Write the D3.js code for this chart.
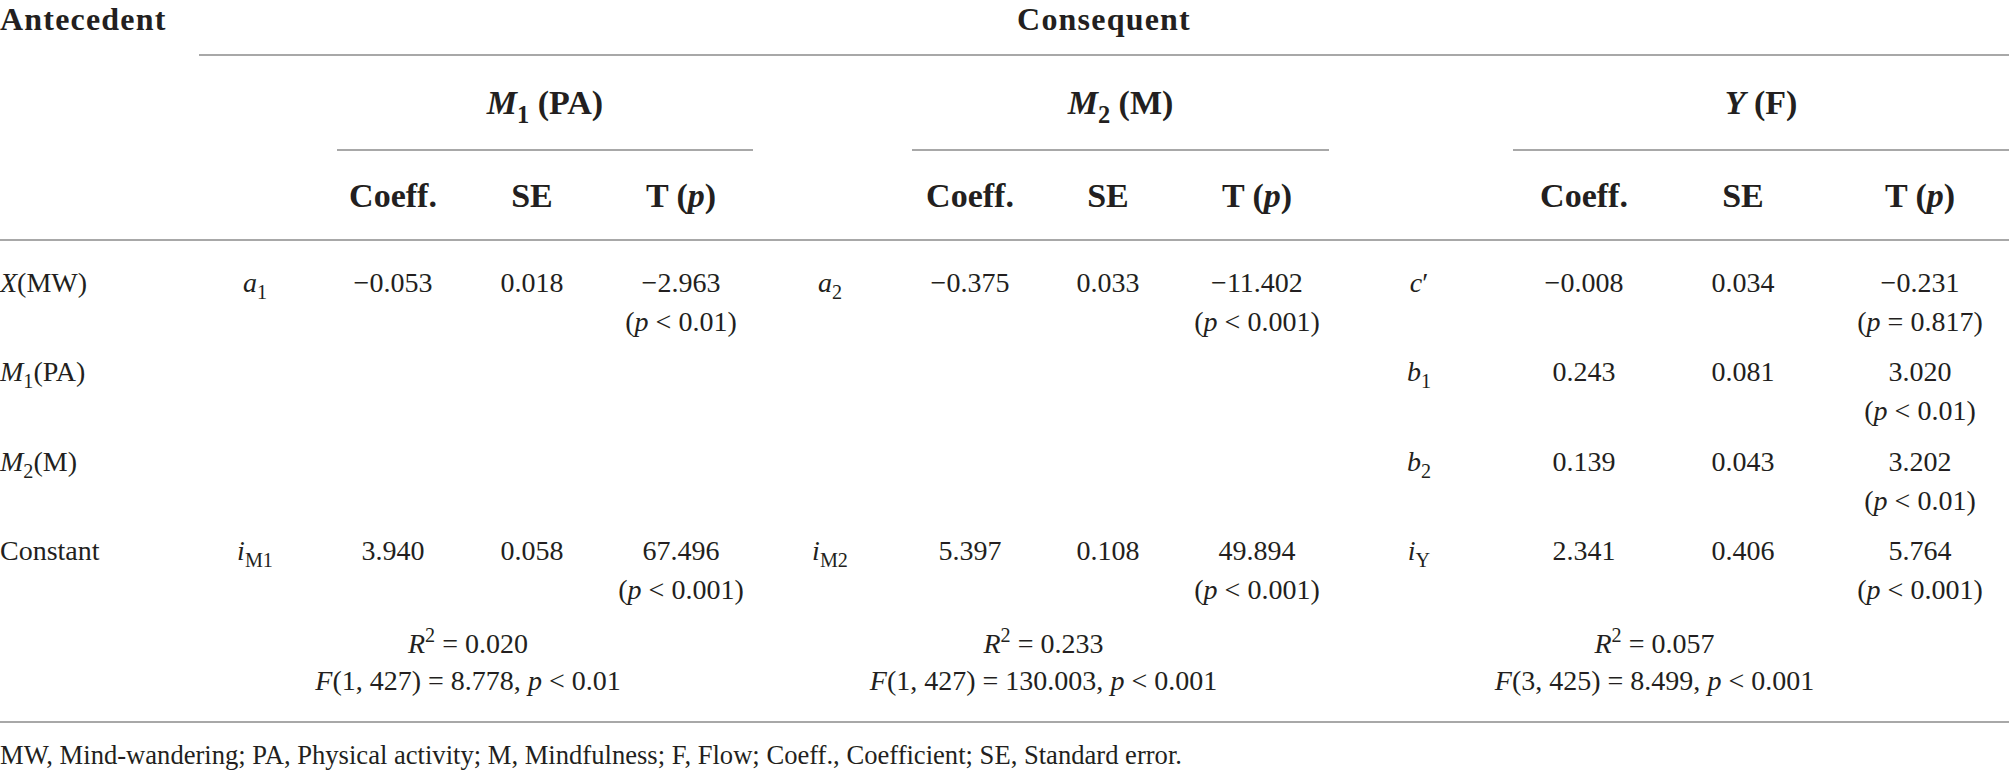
<html>
  <head>
    <style>
      body { margin:0; background:#fff; }
      text {
        font-family: "Liberation Serif", "Times New Roman", serif;
        font-size: 28px;
        fill: #231f20;
      }
      text.head { font-weight: bold; font-size: 34px; }
      text.top { font-size: 32px; letter-spacing: 1.2px; }
      text.note { font-size: 26.6px; }
      .rules line { stroke: #a8a8a8; stroke-width: 2px; }
    </style>
    <script src="https://d3js.org/d3.v7.min.js" charset="utf-8"></script>
  </head>
  <body>
    <script>
      // table content
      const antecedents = ['<i>X</i>(MW)', '<i>M</i><sub>1</sub>(PA)', '<i>M</i><sub>2</sub>(M)', 'Constant']
      const models = ['<i>M</i><sub>1</sub> (PA)', '<i>M</i><sub>2</sub> (M)', '<i>Y</i> (F)']
      const statHeads = ['Coeff.', 'SE', 'T (<i>p</i>)']
      const pathLabels = [
        ['<i>a</i><sub>1</sub>', null, null, '<i>i</i><sub>M1</sub>'],
        ['<i>a</i><sub>2</sub>', null, null, '<i>i</i><sub>M2</sub>'],
        ["<i>c</i>′", '<i>b</i><sub>1</sub>', '<i>b</i><sub>2</sub>', '<i>i</i><sub>Y</sub>']
      ]
      const coeff = [
        [-0.053, null, null, 3.940],
        [-0.375, null, null, 5.397],
        [-0.008, 0.243, 0.139, 2.341]
      ]
      const se = [
        [0.018, null, null, 0.058],
        [0.033, null, null, 0.108],
        [0.034, 0.081, 0.043, 0.406]
      ]
      const tval = [
        [-2.963, null, null, 67.496],
        [-11.402, null, null, 49.894],
        [-0.231, 3.020, 3.202, 5.764]
      ]
      const pval = [
        ['< 0.01', null, null, '< 0.001'],
        ['< 0.001', null, null, '< 0.001'],
        ['= 0.817', '< 0.01', '< 0.01', '< 0.001']
      ]
      const r2 = [0.020, 0.233, 0.057]
      const fdf = [[1, 427], [1, 427], [3, 425]]
      const fval = [8.778, 130.003, 8.499]
      const fp = ['< 0.01', '< 0.001', '< 0.001']
      const footnote = 'MW, Mind-wandering; PA, Physical activity; M, Mindfulness; F, Flow; Coeff., Coefficient; SE, Standard error.'

      const W = 2009, H = 771
      const fmt = d3.format('.3f')

      const svg = d3.select('body').append('svg')
        .attr('width', W)
        .attr('height', H)
      const $rules = svg.append('g').classed('rules', true)
      const $cells = svg.append('g').classed('cells', true)

      // column centres per model group: label, coeff, se, t
      const cols = ['lab', 'coef', 'se', 't']
      const colX = [
        d3.scaleOrdinal().domain(cols).range([255, 393, 532, 681]),
        d3.scaleOrdinal().domain(cols).range([830, 970, 1108, 1257]),
        d3.scaleOrdinal().domain(cols).range([1419, 1584, 1743, 1920])
      ]
      const groupSpan = [[337, 753], [912, 1329], [1513, W]]
      const rowY = d3.scalePoint().domain(d3.range(antecedents.length)).range([292, 560])
      const line2 = 39

      // tiny markup -> tspans (<i>, <sub>, <sup>)
      function rich(sel, str, size) {
        const parts = str.split(/(<\/?(?:i|sub|sup)>)/).filter(s => s !== '')
        let italic = false, shift = 0, cur = 0, mode = null
        parts.forEach(p => {
          if (p == '<i>') italic = true
          else if (p == '</i>') italic = false
          else if (p == '<sub>') { mode = 'sub'; shift = size * 0.25 }
          else if (p == '<sup>') { mode = 'sup'; shift = -size * 0.38 }
          else if (p == '</sub>' || p == '</sup>') { mode = null; shift = 0 }
          else {
            const t = sel.append('tspan').text(p)
            if (italic) t.attr('font-style', 'italic')
            if (mode) t.attr('font-size', size * 0.72)
            if (shift != cur) t.attr('dy', shift - cur)
            cur = shift
          }
        })
        return sel
      }

      function cell(x, y, str, opts = {}) {
        const size = opts.size || 28
        const t = $cells.append('text')
          .attr('x', x)
          .attr('y', y)
          .attr('text-anchor', opts.anchor || 'middle')
        if (opts.cls) t.attr('class', opts.cls)
        return rich(t, str, size)
      }

      // rules
      const rules = [
        { x1: 199, x2: W, y: 55 },
        ...groupSpan.map(s => ({ x1: s[0], x2: s[1], y: 150 })),
        { x1: 0, x2: W, y: 240 },
        { x1: 0, x2: W, y: 722 }
      ]
      $rules.selectAll('line').data(rules).join('line')
        .attr('x1', d => d.x1).attr('x2', d => d.x2)
        .attr('y1', d => d.y).attr('y2', d => d.y)

      // header
      cell(0, 30, 'Antecedent', { anchor: 'start', cls: 'head top', size: 32 })
      cell((199 + W) / 2, 30, 'Consequent', { cls: 'head top', size: 32 })
      models.forEach((m, g) => {
        cell((groupSpan[g][0] + groupSpan[g][1]) / 2, 114, m, { cls: 'head', size: 34 })
        statHeads.forEach((h, j) => cell(colX[g](cols[j + 1]), 207, h, { cls: 'head', size: 34 }))
      })

      // body
      antecedents.forEach((a, r) => cell(0, rowY(r), a, { anchor: 'start' }))
      models.forEach((m, g) => {
        const x = colX[g]
        antecedents.forEach((a, r) => {
          if (coeff[g][r] == null) return
          const y = rowY(r)
          cell(x('lab'), y, pathLabels[g][r])
          cell(x('coef'), y, fmt(coeff[g][r]))
          cell(x('se'), y, fmt(se[g][r]))
          cell(x('t'), y, fmt(tval[g][r]))
          cell(x('t'), y + line2, `(<i>p</i> ${pval[g][r]})`)
        })
        const cx = d3.mean([x('lab'), x('t')]) + (g == 2 ? -15 : 0)
        cell(cx, 653, `<i>R</i><sup>2</sup> = ${fmt(r2[g])}`)
        cell(cx, 690, `<i>F</i>(${fdf[g][0]}, ${fdf[g][1]}) = ${fmt(fval[g])}, <i>p</i> ${fp[g]}`)
      })

      cell(0, 764, footnote, { anchor: 'start', cls: 'note', size: 26.6 })
    </script>
  </body>
</html>
